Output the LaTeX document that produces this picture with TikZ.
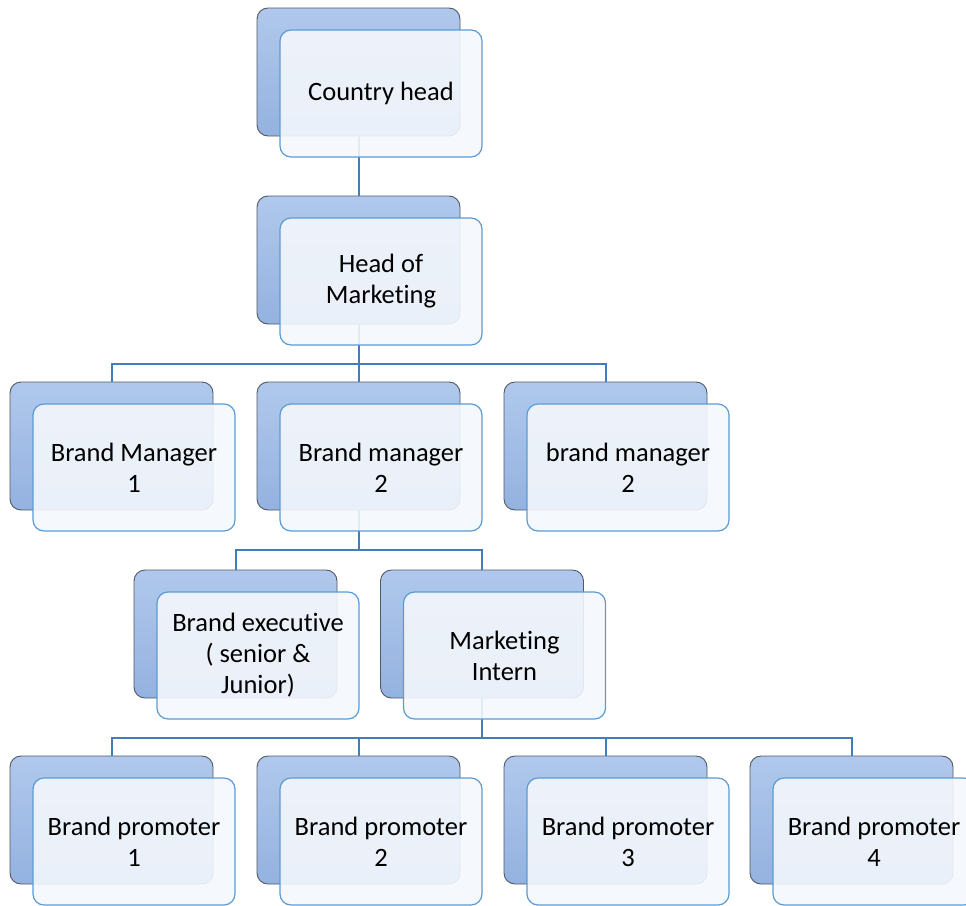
\documentclass[tikz,border=0pt]{standalone}
\usepackage{fontspec}
\setmainfont[Ligatures=NoCommon]{Carlito}

\definecolor{backtop}{RGB}{176,200,236}
\definecolor{backbot}{RGB}{148,178,224}
\definecolor{backedge}{RGB}{80,88,100}
\definecolor{frontedge}{RGB}{91,155,213}
\definecolor{frontfill}{RGB}{244,247,252}
\definecolor{linkblue}{RGB}{65,125,185}

\tikzset{
  backbox/.style={draw=backedge, line width=0.9pt, rounded corners=11pt, top color=backtop,
    bottom color=backbot, minimum width=203pt, minimum height=128pt, inner sep=0pt},
  frontbox/.style={draw=frontedge, line width=1.2pt, rounded corners=11pt, fill=frontfill,
    fill opacity=0.9, text opacity=1, minimum width=202pt, minimum height=127pt, inner sep=0pt,
    align=center, font=\fontsize{26.5}{31}\selectfont},
  link/.style={draw=linkblue, line width=2pt}
}

\begin{document}
\begin{tikzpicture}[x=1pt,y=-1pt]
    \useasboundingbox (0,0) rectangle (966,905);
    % back boxes
    \foreach \nm/\x/\y in {ch/358.5/72, hm/358.5/260,
                           bma/111.5/446, bmb/358.5/446, bmc/605.5/446,
                           bex/235.5/634, int/482/634,
                           bpa/111.5/820, bpb/358.5/820, bpc/605.5/820, bpd/851.5/820}
        \node[backbox] (\nm-b) at (\x,\y) {};
    % connectors
    \draw[link] (ch-b.south) -- (hm-b.north);
    \foreach \kid in {bma,bmb,bmc}
        \draw[link] (hm-b.south) -- ++(0,40) -| (\kid-b.north);
    \foreach \kid in {bex,int}
        \draw[link] (bmb-b.south) -- ++(0,40) -| (\kid-b.north);
    \foreach \kid in {bpa,bpb,bpc,bpd}
        \draw[link] (int-b.south) -- ++(0,40) -| (\kid-b.north);
    % front boxes
    \foreach \nm/\x/\y/\txt in {ch/358.5/72/{Country head}, hm/358.5/260/{Head of\\Marketing},
                                bma/111.5/446/{Brand Manager\\1}, bmb/358.5/446/{Brand manager\\2},
                                bmc/605.5/446/{brand manager\\2},
                                bex/235.5/634/{Brand executive\\( senior \&\\Junior)},
                                int/482/634/{Marketing\\Intern},
                                bpa/111.5/820/{Brand promoter\\1}, bpb/358.5/820/{Brand promoter\\2},
                                bpc/605.5/820/{Brand promoter\\3}, bpd/851.5/820/{Brand promoter\\4}}
        \node[frontbox] (\nm) at (\x+22.5,\y+21.5) {\txt};
\end{tikzpicture}
\end{document}
